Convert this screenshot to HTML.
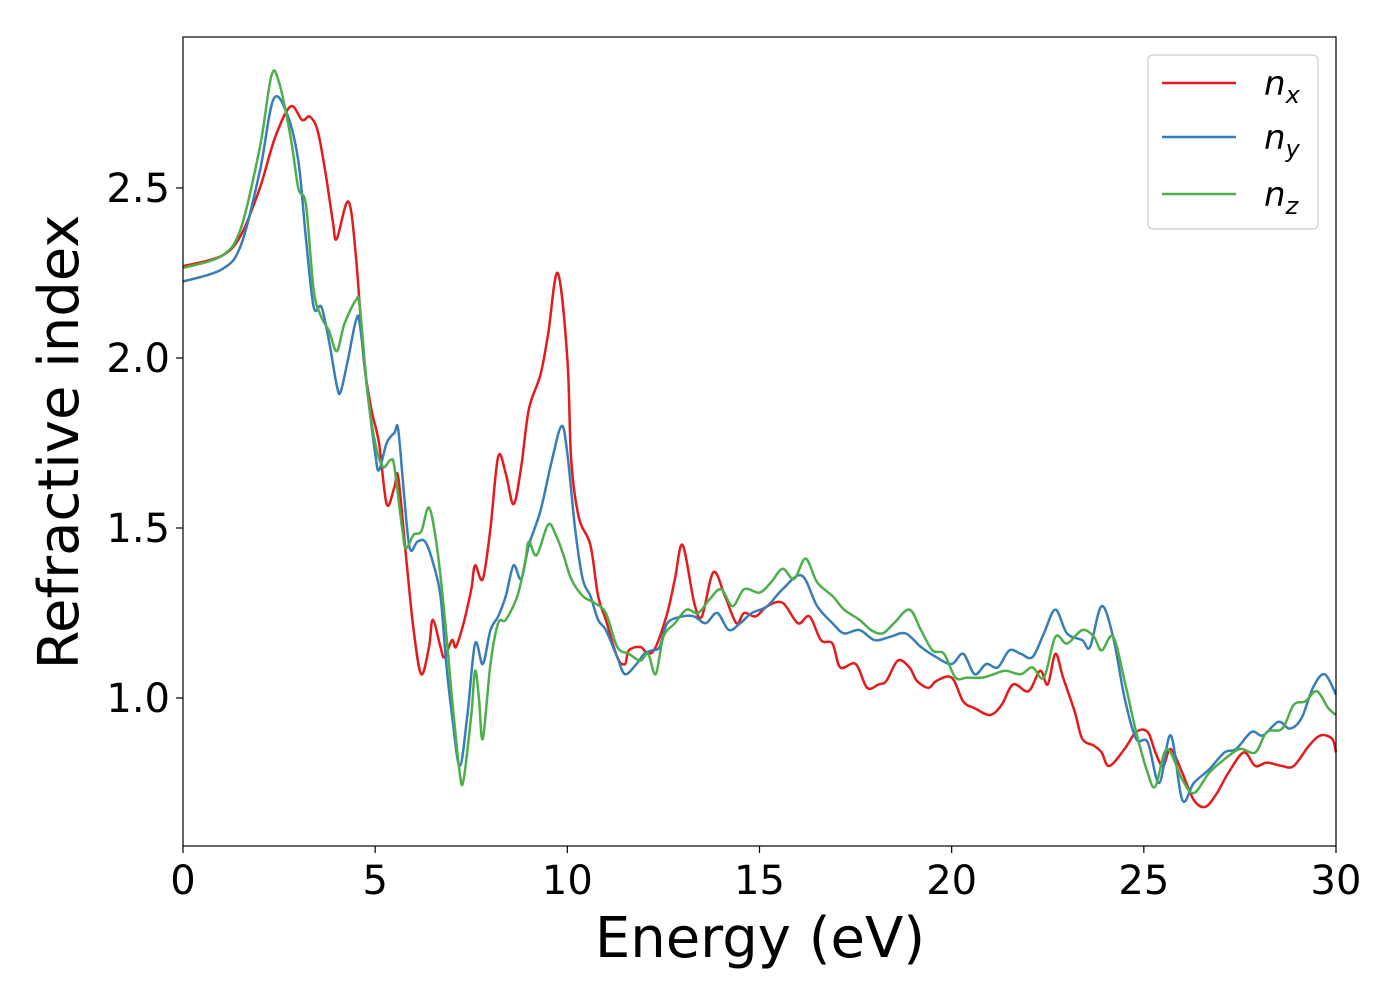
<!DOCTYPE html>
<html><head><meta charset="utf-8"><style>
body{margin:0;background:#fff;}
svg{display:block;font-family:"DejaVu Sans","Liberation Sans",sans-serif;}
</style></head><body>
<svg id="chart" width="1400" height="1000">
<rect x="0" y="0" width="1400" height="1000" fill="#fff"/>
<g id="lines"></g>
<rect x="183" y="37" width="1153" height="809" fill="none" stroke="#000" stroke-width="1.2"/>
<g id="ticks"></g>
<text x="760" y="957" font-size="56" text-anchor="middle">Energy (eV)</text>
<text transform="translate(78,442) rotate(-90)" font-size="56" text-anchor="middle">Refractive index</text>
<g>
<rect x="1148" y="55" width="170" height="174" rx="5" fill="#fff" stroke="#ccc" stroke-width="1.2"/>
<line x1="1162" y1="83" x2="1236" y2="83" stroke="#e41a1c" stroke-width="2.5"/>
<line x1="1162" y1="137" x2="1236" y2="137" stroke="#377eb8" stroke-width="2.5"/>
<line x1="1162" y1="194" x2="1236" y2="194" stroke="#4daf4a" stroke-width="2.5"/>
<text x="1264" y="95" font-size="34" font-style="italic">n<tspan font-size="24" dy="8">x</tspan></text>
<text x="1264" y="149" font-size="34" font-style="italic">n<tspan font-size="24" dy="8">y</tspan></text>
<text x="1264" y="206" font-size="34" font-style="italic">n<tspan font-size="24" dy="8">z</tspan></text>
</g>
</svg>
<script>
const xTicks=[0,5,10,15,20,25,30];
const yTicks=[1.0,1.5,2.0,2.5];
const nxE=[0,1,1.5,2,2.4,2.8,3.1,3.3,3.5,3.7,3.9,4.0,4.3,4.5,4.7,4.9,5.1,5.3,5.5,5.6,5.8,6.0,6.2,6.4,6.5,6.7,6.8,7.0,7.1,7.3,7.5,7.6,7.8,8.0,8.2,8.4,8.6,8.8,9.0,9.3,9.5,9.75,10.0,10.1,10.3,10.6,10.8,11.0,11.3,11.5,11.6,11.9,12.1,12.3,12.6,12.8,13.0,13.3,13.5,13.8,14.1,14.4,14.6,14.9,15.2,15.6,16.0,16.3,16.6,16.9,17.1,17.5,17.8,18.1,18.3,18.6,18.9,19.1,19.4,19.6,20.0,20.3,20.6,21.0,21.3,21.6,22.0,22.3,22.5,22.7,22.9,23.2,23.4,23.7,23.9,24.1,24.5,24.8,25.1,25.3,25.5,25.7,26.0,26.3,26.6,26.9,27.2,27.6,27.9,28.2,28.6,28.9,29.3,29.6,29.9,30];
const nxV=[2.27,2.30,2.36,2.50,2.65,2.74,2.70,2.71,2.67,2.55,2.40,2.35,2.46,2.30,2.00,1.85,1.75,1.57,1.62,1.65,1.42,1.20,1.07,1.15,1.23,1.15,1.12,1.17,1.15,1.22,1.32,1.39,1.35,1.50,1.71,1.66,1.57,1.68,1.85,1.95,2.07,2.25,2.00,1.70,1.53,1.45,1.30,1.23,1.12,1.10,1.14,1.15,1.13,1.15,1.25,1.35,1.45,1.28,1.24,1.37,1.30,1.22,1.25,1.24,1.27,1.28,1.22,1.24,1.17,1.16,1.09,1.10,1.03,1.04,1.05,1.11,1.09,1.05,1.03,1.05,1.06,0.99,0.97,0.95,0.98,1.04,1.02,1.08,1.04,1.13,1.06,0.96,0.88,0.86,0.84,0.80,0.85,0.90,0.90,0.84,0.80,0.85,0.78,0.70,0.68,0.72,0.78,0.84,0.80,0.81,0.80,0.80,0.86,0.89,0.88,0.84];
const nyE=[0,1,1.5,2,2.35,2.7,3.0,3.2,3.4,3.6,3.8,4.0,4.1,4.3,4.5,4.6,4.8,5.0,5.1,5.3,5.5,5.6,5.75,5.9,6.1,6.3,6.5,6.7,6.85,7.0,7.2,7.4,7.6,7.8,8.0,8.2,8.4,8.6,8.8,9.0,9.3,9.6,9.85,10.0,10.2,10.4,10.6,10.8,11.0,11.3,11.5,11.8,12.0,12.2,12.4,12.6,13.0,13.3,13.6,13.9,14.2,14.5,14.8,15.2,15.6,16.1,16.5,16.9,17.2,17.6,18.0,18.4,18.8,19.2,19.6,20.0,20.3,20.6,20.9,21.2,21.5,21.8,22.1,22.4,22.7,23.0,23.4,23.6,23.9,24.2,24.5,24.8,25.1,25.4,25.7,26.0,26.3,26.7,27.1,27.4,27.8,28.1,28.5,28.8,29.1,29.4,29.7,30];
const nyV=[2.225,2.26,2.33,2.55,2.76,2.72,2.58,2.35,2.15,2.15,2.05,1.92,1.90,2.00,2.11,2.10,1.90,1.72,1.67,1.75,1.78,1.79,1.60,1.44,1.46,1.46,1.40,1.30,1.10,0.95,0.80,0.95,1.16,1.10,1.20,1.24,1.30,1.39,1.35,1.45,1.55,1.70,1.80,1.72,1.50,1.35,1.30,1.23,1.20,1.12,1.07,1.10,1.13,1.14,1.15,1.22,1.24,1.24,1.22,1.25,1.20,1.22,1.25,1.27,1.32,1.36,1.27,1.22,1.19,1.20,1.17,1.18,1.19,1.15,1.12,1.10,1.13,1.07,1.10,1.09,1.14,1.13,1.12,1.19,1.26,1.19,1.17,1.15,1.27,1.18,1.00,0.88,0.87,0.75,0.89,0.70,0.75,0.79,0.84,0.85,0.90,0.89,0.93,0.91,0.94,1.03,1.07,1.01];
const nzE=[0,1,1.5,2,2.3,2.5,2.8,3.0,3.2,3.4,3.6,3.8,4.0,4.2,4.5,4.6,4.8,5.0,5.2,5.4,5.5,5.7,5.8,6.0,6.2,6.4,6.6,6.8,7.0,7.2,7.3,7.5,7.6,7.7,7.8,8.0,8.2,8.4,8.7,8.9,9.0,9.2,9.5,9.7,9.9,10.1,10.4,10.7,11.0,11.3,11.6,11.9,12.1,12.3,12.5,12.8,13.1,13.4,13.7,14.0,14.3,14.6,15.0,15.3,15.6,15.9,16.2,16.5,16.9,17.2,17.6,17.9,18.2,18.5,18.9,19.2,19.5,19.8,20.1,20.4,20.8,21.1,21.4,21.8,22.1,22.4,22.7,23.0,23.4,23.7,23.9,24.2,24.5,24.8,25.1,25.3,25.6,26.0,26.3,26.7,27.1,27.5,27.9,28.2,28.6,28.9,29.2,29.5,29.8,30];
const nzV=[2.265,2.30,2.38,2.62,2.83,2.81,2.65,2.50,2.45,2.20,2.12,2.08,2.02,2.10,2.17,2.15,1.90,1.75,1.68,1.70,1.68,1.50,1.44,1.48,1.49,1.56,1.45,1.25,1.00,0.78,0.76,0.95,1.08,1.00,0.88,1.10,1.22,1.23,1.30,1.40,1.46,1.42,1.51,1.48,1.42,1.35,1.30,1.28,1.25,1.15,1.13,1.11,1.13,1.07,1.18,1.22,1.26,1.25,1.29,1.32,1.27,1.32,1.31,1.34,1.38,1.35,1.41,1.34,1.30,1.26,1.23,1.20,1.19,1.22,1.26,1.20,1.14,1.13,1.06,1.06,1.06,1.07,1.08,1.07,1.09,1.06,1.18,1.16,1.20,1.18,1.14,1.18,1.05,0.90,0.78,0.74,0.85,0.76,0.72,0.78,0.82,0.85,0.84,0.90,0.91,0.98,0.99,1.02,0.97,0.95];

const X0=183,X1=1336,Y0=846,Y1=37,xMin=0,xMax=30,yMin=0.5647,yMax=2.944;
function sx(v){return X0+(v-xMin)/(xMax-xMin)*(X1-X0);}
function sy(v){return Y0-(v-yMin)/(yMax-yMin)*(Y0-Y1);}
const NS='http://www.w3.org/2000/svg';
function pathFor(E,V){
  const p=E.map((e,i)=>[sx(e),sy(V[i])]);
  let d='M'+p[0][0].toFixed(1)+','+p[0][1].toFixed(1);
  for(let i=0;i<p.length-1;i++){
    const a=p[i-1]||p[i],b=p[i],c=p[i+1],e=p[i+2]||c;
    const c1x=b[0]+(c[0]-a[0])/6,c1y=b[1]+(c[1]-a[1])/6,c2x=c[0]-(e[0]-b[0])/6,c2y=c[1]-(e[1]-b[1])/6;
    d+=' C'+c1x.toFixed(1)+','+c1y.toFixed(1)+' '+c2x.toFixed(1)+','+c2y.toFixed(1)+' '+c[0].toFixed(1)+','+c[1].toFixed(1);
  }
  return d;
}
const lines=document.getElementById('lines');
[[nxE,nxV,'#e41a1c','line-nx'],[nyE,nyV,'#377eb8','line-ny'],[nzE,nzV,'#4daf4a','line-nz']].forEach(s=>{
  const el=document.createElementNS(NS,'path');
  el.setAttribute('d',pathFor(s[0],s[1]));
  el.setAttribute('fill','none');el.setAttribute('stroke',s[2]);el.setAttribute('stroke-width','2.5');
  
  
  lines.appendChild(el);
});
const tg=document.getElementById('ticks');
xTicks.forEach(t=>{
  const l=document.createElementNS(NS,'line');
  l.setAttribute('x1',sx(t));l.setAttribute('x2',sx(t));l.setAttribute('y1',846);l.setAttribute('y2',853);l.setAttribute('stroke','#000');l.setAttribute('stroke-width','1.2');
  
  
  tg.appendChild(l);
  const tx=document.createElementNS(NS,'text');
  tx.setAttribute('x',sx(t));tx.setAttribute('y',894);tx.setAttribute('font-size','40');tx.setAttribute('text-anchor','middle');
  tx.textContent=String(t);
  
  
  tg.appendChild(tx);
});
yTicks.forEach(t=>{
  const l=document.createElementNS(NS,'line');
  l.setAttribute('x1',176);l.setAttribute('x2',183);l.setAttribute('y1',sy(t));l.setAttribute('y2',sy(t));l.setAttribute('stroke','#000');l.setAttribute('stroke-width','1.2');
  
  
  tg.appendChild(l);
  const tx=document.createElementNS(NS,'text');
  tx.setAttribute('x',170);tx.setAttribute('y',sy(t)+14);tx.setAttribute('font-size','40');tx.setAttribute('text-anchor','end');
  tx.textContent=t.toFixed(1);
  
  
  tg.appendChild(tx);
});
</script>
</body></html>
